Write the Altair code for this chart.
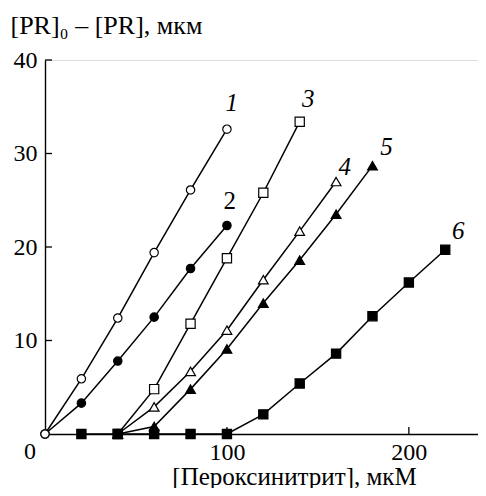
import altair as alt
import pandas as pd

# ---- data ----
x1 = [0, 20, 40, 60, 80, 100]
y1 = [0, 5.9, 12.4, 19.4, 26.1, 32.6]
x2 = [0, 20, 40, 60, 80, 100]
y2 = [0, 3.3, 7.8, 12.5, 17.7, 22.3]
x3 = [40, 60, 80, 100, 120, 140]
y3 = [0, 4.8, 11.8, 18.8, 25.8, 33.4]
x4 = [40, 60, 80, 100, 120, 140, 160]
y4 = [0, 2.9, 6.7, 11.1, 16.5, 21.7, 27.0]
x5 = [40, 60, 80, 100, 120, 140, 160, 180]
y5 = [0, 0.8, 4.8, 9.1, 14.0, 18.6, 23.5, 28.7]
x6 = [20, 40, 60, 80, 100, 120, 140, 160, 180, 200, 220]
y6 = [0, 0, 0, 0, 0, 2.1, 5.4, 8.6, 12.6, 16.2, 19.7]

# curve labels (data coordinates)
lab_italic = ["1", "3", "4", "5", "6"]
lab_italic_x = [102.6, 144.7, 164.8, 187.7, 227.1]
lab_italic_y = [35.4, 35.8, 28.6, 30.7, 21.7]
lab_plain = ["2"]
lab_plain_x = [101.6]
lab_plain_y = [24.9]

x_ticks = [100, 200]
x_origin_label = ["0"]
y_ticks = [10, 20, 30, 40]

FONT = "Liberation Serif"
FS = 24
W, H = 433, 374

xscale = alt.Scale(domain=[0, 238], nice=False, zero=False)
yscale = alt.Scale(domain=[0, 40], nice=False)

xaxis = alt.Axis(
    values=x_ticks, ticks=False, grid=False, domain=True,
    domainColor="black", domainWidth=1.4, labelFlush=False,
    labelFont=FONT, labelFontSize=FS, labelColor="black", labelPadding=6,
    title="[Пероксинитрит], мкМ", titleFont=FONT, titleFontSize=25,
    titleFontWeight="normal", titleColor="black",
    titleX=249, titleY=50, titleAlign="center", titleBaseline="alphabetic",
)
yaxis = alt.Axis(
    values=y_ticks, ticks=False, grid=False, domain=True,
    domainColor="black", domainWidth=1.4, labelFlush=False,
    labelFont=FONT, labelFontSize=FS, labelColor="black", labelPadding=8,
    title="[PR]\u2080 – [PR], мкм", titleFont=FONT, titleFontSize=26,
    titleFontWeight="normal", titleColor="black", titleAngle=0,
    titleX=-35, titleY=-27, titleAlign="left", titleBaseline="alphabetic",
)


def df(xs, ys):
    return pd.DataFrame({"x": xs, "y": ys})


def xe():
    return alt.X("x:Q", scale=xscale, axis=xaxis)


def ye():
    return alt.Y("y:Q", scale=yscale, axis=yaxis)


series = [
    (x1, y1, "circle", "white", 70),
    (x2, y2, "circle", "black", 70),
    (x3, y3, "square", "white", 85),
    (x4, y4, "triangle-up", "white", 95),
    (x5, y5, "triangle-up", "black", 95),
    (x6, y6, "square", "black", 85),
]

layers = []
for xs, ys, shp, fill, size in series:
    layers.append(
        alt.Chart(df(xs, ys)).mark_line(color="black", strokeWidth=1.5).encode(
            x=xe(), y=ye()
        )
    )

point_order = [2, 3, 4, 5, 1, 0]
for i in point_order:
    xs, ys, shp, fill, size = series[i]
    layers.append(
        alt.Chart(df(xs, ys)).mark_point(
            shape=shp, filled=True, fill=fill, stroke="black",
            strokeWidth=1.2, size=size, opacity=1,
        ).encode(x=xe(), y=ye())
    )

# inward ticks
layers.append(
    alt.Chart(pd.DataFrame({"y": y_ticks})).mark_rule(color="black", strokeWidth=1.3).encode(
        y=ye(), x=alt.value(0), x2=alt.value(7)
    )
)
layers.append(
    alt.Chart(pd.DataFrame({"x": x_ticks})).mark_rule(color="black", strokeWidth=1.3).encode(
        x=xe(), y=alt.value(H), y2=alt.value(H - 7)
    )
)

# origin label "0" (shared by both axes, set left of the origin)
layers.append(
    alt.Chart(pd.DataFrame({"x": [0], "y": [0], "t": x_origin_label})).mark_text(
        font=FONT, fontSize=FS, color="black", align="center", baseline="top",
        dx=-15, dy=6,
    ).encode(x=xe(), y=ye(), text="t:N")
)

# curve labels
layers.append(
    alt.Chart(pd.DataFrame({"x": lab_italic_x, "y": lab_italic_y, "t": lab_italic})).mark_text(
        font=FONT, fontSize=25, fontStyle="italic", color="black",
        align="center", baseline="middle",
    ).encode(x=xe(), y=ye(), text="t:N")
)
layers.append(
    alt.Chart(pd.DataFrame({"x": lab_plain_x, "y": lab_plain_y, "t": lab_plain})).mark_text(
        font=FONT, fontSize=25, color="black", align="center", baseline="middle",
    ).encode(x=xe(), y=ye(), text="t:N")
)

chart = alt.layer(*layers).properties(
    width=W, height=H,
    autosize=alt.AutoSizeParams(type="none"),
    padding={"left": 37, "top": 52, "right": 0, "bottom": 54},
).configure_view(stroke=None).configure(background="white")

chart.save("out.html", embed_options={"renderer": "svg", "actions": False})
